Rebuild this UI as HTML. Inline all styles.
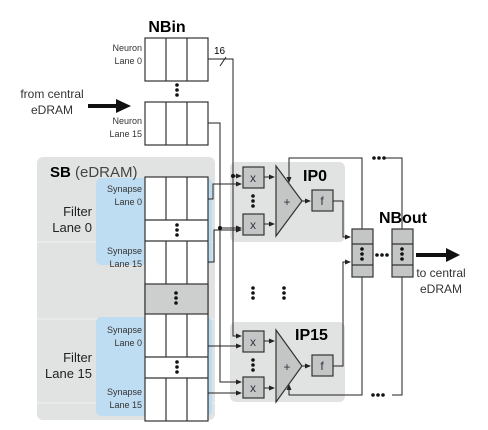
<!DOCTYPE html>
<html><head><meta charset="utf-8"><style>
html,body{margin:0;padding:0;background:#fff;}
svg{display:block;font-family:"Liberation Sans",sans-serif;}
</style></head><body>
<svg width="488" height="430" viewBox="0 0 488 430" xmlns="http://www.w3.org/2000/svg">
<defs>
<marker id="a" markerWidth="6" markerHeight="6" refX="5" refY="3" orient="auto" markerUnits="userSpaceOnUse"><path d="M0,0.5 L6,3 L0,5.5z" fill="#222"/></marker>
</defs>
<!-- SB region -->
<rect x="37" y="157" width="178" height="263" rx="6" fill="#e1e3e2"/>
<line x1="37" y1="242" x2="215" y2="242" stroke="#f2f2f2"/>
<line x1="37" y1="319" x2="215" y2="319" stroke="#f2f2f2"/>
<line x1="37" y1="403" x2="215" y2="403" stroke="#f2f2f2"/>
<rect x="96" y="178" width="116" height="87" rx="5" fill="#bfddf2"/>
<rect x="96" y="317" width="116" height="99" rx="5" fill="#bfddf2"/>
<text x="50" y="177" font-size="15"><tspan font-weight="bold">SB</tspan> <tspan fill="#444">(eDRAM)</tspan></text>
<g font-size="13" text-anchor="end" fill="#222">
<text x="92" y="216">Filter</text><text x="92" y="232">Lane 0</text>
<text x="92" y="362">Filter</text><text x="92" y="378">Lane 15</text>
</g>
<g font-size="9" text-anchor="end" fill="#333">
<text x="142" y="192">Synapse</text><text x="142" y="205">Lane 0</text>
<text x="142" y="254">Synapse</text><text x="142" y="267">Lane 15</text>
<text x="142" y="333">Synapse</text><text x="142" y="346">Lane 0</text>
<text x="142" y="395">Synapse</text><text x="142" y="408">Lane 15</text>
<text x="142" y="51">Neuron</text><text x="142" y="64">Lane 0</text>
<text x="142" y="124">Neuron</text><text x="142" y="137">Lane 15</text>
</g>
<!-- SB cells -->
<g stroke="#333" stroke-width="1.2" fill="#fff">
<rect x="145" y="177" width="63" height="244"/>
<rect x="145" y="284" width="63" height="30" fill="#cdcfce"/>
<line x1="166" y1="177" x2="166" y2="220"/><line x1="187" y1="177" x2="187" y2="220"/>
<line x1="145" y1="220" x2="208" y2="220"/><line x1="145" y1="241" x2="208" y2="241"/>
<line x1="166" y1="241" x2="166" y2="284"/><line x1="187" y1="241" x2="187" y2="284"/>
<line x1="166" y1="314" x2="166" y2="357"/><line x1="187" y1="314" x2="187" y2="357"/>
<line x1="145" y1="357" x2="208" y2="357"/><line x1="145" y1="378" x2="208" y2="378"/>
<line x1="166" y1="378" x2="166" y2="421"/><line x1="187" y1="378" x2="187" y2="421"/>
<!-- NBin -->
<rect x="145" y="38" width="63" height="43"/>
<line x1="166" y1="38" x2="166" y2="81"/><line x1="187" y1="38" x2="187" y2="81"/>
<rect x="145" y="102" width="63" height="43"/>
<line x1="166" y1="102" x2="166" y2="145"/><line x1="187" y1="102" x2="187" y2="145"/>
</g>
<text x="167" y="32" font-size="16" font-weight="bold" text-anchor="middle">NBin</text>
<g fill="#111">
<circle cx="177" cy="85" r="1.8"/><circle cx="177" cy="90" r="1.8"/><circle cx="177" cy="95" r="1.8"/>
<circle cx="177" cy="225" r="1.8"/><circle cx="177" cy="230" r="1.8"/><circle cx="177" cy="235" r="1.8"/>
<circle cx="176" cy="293" r="1.8"/><circle cx="176" cy="298" r="1.8"/><circle cx="176" cy="303" r="1.8"/>
<circle cx="177" cy="362" r="1.8"/><circle cx="177" cy="367" r="1.8"/><circle cx="177" cy="372" r="1.8"/>
</g>
<text x="52" y="98" font-size="12" text-anchor="middle" fill="#333">from central</text>
<text x="52" y="114" font-size="12" text-anchor="middle" fill="#333">eDRAM</text>
<line x1="88" y1="106" x2="118" y2="106" stroke="#111" stroke-width="4"/>
<path d="M116,99 L131,106 L116,113z" fill="#111"/>
<text x="214" y="54" font-size="10">16</text>
<!-- IP boxes -->
<rect x="230" y="162" width="115" height="80" rx="6" fill="#e1e3e2"/>
<rect x="230" y="322" width="115" height="80" rx="6" fill="#e1e3e2"/>
<text x="303" y="181" font-size="16" font-weight="bold">IP0</text>
<text x="295" y="340" font-size="16" font-weight="bold">IP15</text>
<text x="403" y="223" font-size="16" font-weight="bold" text-anchor="middle">NBout</text>
<!-- wires -->
<g stroke="#222" stroke-width="1" fill="none">
<polyline points="208,59 233,59 233,336 241,336" marker-end="url(#a)"/>
<line x1="220" y1="66" x2="226" y2="57"/>
<polyline points="208,123 220,123 220,382 241,382" marker-end="url(#a)"/>
<polyline points="233,176 241,176" marker-end="url(#a)"/>
<polyline points="220,228 241,228" marker-end="url(#a)"/>
<polyline points="208,199 213,199 213,184 241,184" marker-end="url(#a)"/>
<polyline points="208,262 214,262 214,230 241,230" marker-end="url(#a)"/>
<polyline points="208,346 241,346" marker-end="url(#a)"/>
<polyline points="208,393 241,393" marker-end="url(#a)"/>
<polyline points="264,177 274,177" marker-end="url(#a)"/>
<polyline points="264,224 274,224" marker-end="url(#a)"/>
<polyline points="264,341 274,341" marker-end="url(#a)"/>
<polyline points="264,388 274,388" marker-end="url(#a)"/>
<polyline points="302,201 310,201" marker-end="url(#a)"/>
<polyline points="302,366 310,366" marker-end="url(#a)"/>
<polyline points="362,229 362,158 289,158 289,182" marker-end="url(#a)"/>
<polyline points="385,158 402,158 402,229"/>
<polyline points="362,277 362,395 289,395 289,385" marker-end="url(#a)"/>
<polyline points="402,277 402,395 392,395"/>
<polyline points="333,201 343,201 343,237 350,237" marker-end="url(#a)"/>
<polyline points="333,366 343,366 343,262 350,262" marker-end="url(#a)"/>
</g>
<g fill="#111">
<circle cx="233" cy="176" r="2"/><circle cx="220" cy="228" r="2"/>
<circle cx="374" cy="158" r="1.8"/><circle cx="379" cy="158" r="1.8"/><circle cx="384" cy="158" r="1.8"/>
<circle cx="373" cy="395" r="1.8"/><circle cx="378" cy="395" r="1.8"/><circle cx="383" cy="395" r="1.8"/>
<circle cx="377" cy="255" r="1.8"/><circle cx="382" cy="255" r="1.8"/><circle cx="387" cy="255" r="1.8"/>
<circle cx="253" cy="196" r="1.8"/><circle cx="253" cy="201" r="1.8"/><circle cx="253" cy="206" r="1.8"/>
<circle cx="253" cy="360" r="1.8"/><circle cx="253" cy="365" r="1.8"/><circle cx="253" cy="370" r="1.8"/>
<circle cx="253" cy="288" r="1.8"/><circle cx="253" cy="293" r="1.8"/><circle cx="253" cy="298" r="1.8"/>
<circle cx="284" cy="288" r="1.8"/><circle cx="284" cy="293" r="1.8"/><circle cx="284" cy="298" r="1.8"/>
</g>
<!-- units -->
<g stroke="#333" stroke-width="1.2" fill="#c4c6c5">
<rect x="243" y="167" width="21" height="21"/><rect x="243" y="214" width="21" height="21"/>
<rect x="243" y="331" width="21" height="21"/><rect x="243" y="377" width="21" height="21"/>
<path d="M276,166 L302,201 L276,236z"/><path d="M276,330 L302,366 L276,402z"/>
<rect x="312" y="190" width="21" height="21"/><rect x="312" y="355" width="21" height="21"/>
<rect x="352" y="229" width="21" height="48"/><rect x="392" y="229" width="21" height="48"/>
<line x1="352" y1="244" x2="373" y2="244"/><line x1="352" y1="265" x2="373" y2="265"/>
<line x1="392" y1="244" x2="413" y2="244"/><line x1="392" y1="265" x2="413" y2="265"/>
</g>
<g font-size="12" fill="#334" text-anchor="middle">
<text x="253" y="182">x</text><text x="253" y="229">x</text>
<text x="253" y="346">x</text><text x="253" y="392">x</text>
<text x="287" y="206">+</text><text x="287" y="371">+</text>
<text x="322" y="205">f</text><text x="322" y="370">f</text>
</g>
<g fill="#111">
<circle cx="362" cy="249" r="1.8"/><circle cx="362" cy="254" r="1.8"/><circle cx="362" cy="259" r="1.8"/>
<circle cx="402" cy="249" r="1.8"/><circle cx="402" cy="254" r="1.8"/><circle cx="402" cy="259" r="1.8"/>
</g>
<line x1="416" y1="255" x2="448" y2="255" stroke="#111" stroke-width="4"/>
<path d="M446,248 L460,255 L446,262z" fill="#111"/>
<text x="441" y="277" font-size="12" text-anchor="middle" fill="#333">to central</text>
<text x="441" y="293" font-size="12" text-anchor="middle" fill="#333">eDRAM</text>
</svg>
</body></html>
